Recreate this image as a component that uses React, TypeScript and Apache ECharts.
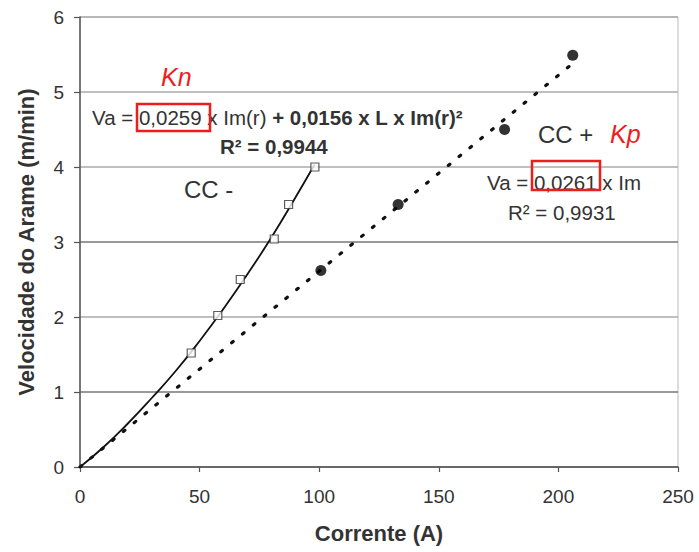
import React, { useEffect, useRef } from "react";
import * as echarts from "echarts";

// Measured points: wire feed speed (m/min) versus current (A)
const ccNegCurrent = [46.5, 57.6, 67.0, 81.2, 87.2, 98.2];
const ccNegSpeed = [1.52, 2.02, 2.5, 3.04, 3.5, 4.0];
const ccPosCurrent = [100.7, 133.0, 177.5, 206.0];
const ccPosSpeed = [2.62, 3.5, 4.5, 5.49];

// Trend lines (CC- quadratic fit, CC+ linear fit through origin)
const ccNegFitCurrent = [0, 10, 20, 30, 40, 50, 60, 70, 80, 90, 98];
const ccNegFitSpeed = [0, 0.27, 0.58, 0.92, 1.28, 1.68, 2.11, 2.57, 3.06, 3.59, 4.03];
const ccPosFitCurrent = [0, 206];
const ccPosFitSpeed = [0, 5.38];

const xTicks = { min: 0, max: 250, step: 50 };
const yTicks = { min: 0, max: 6, step: 1 };

const FONT = '"Liberation Sans", Arial, sans-serif';
const TEXT = "#333";
const RED = "#ee1c1c";

const zip = (a: number[], b: number[]) => a.map((v, i) => [v, b[i]]);

export default function App() {
  const ref = useRef<HTMLDivElement>(null);

  useEffect(() => {
    document.body.style.margin = "0";
    if (!ref.current) return;
    const chart = echarts.init(ref.current, null, { renderer: "svg" });

    const label = (
      x: number,
      y: number,
      text: string,
      opts: Record<string, unknown> = {}
    ) => ({
      type: "text",
      x,
      y,
      z: 10,
      style: {
        text,
        fill: TEXT,
        fontFamily: FONT,
        fontSize: 20.5,
        textVerticalAlign: "middle",
        ...opts,
      },
    });

    const box = (x: number, y: number, w: number, h: number) => ({
      type: "rect",
      z: 11,
      shape: { x, y, width: w, height: h },
      style: { fill: "none", stroke: RED, lineWidth: 2.5 },
    });

    chart.setOption({
      animation: false,
      backgroundColor: "#fff",
      grid: {
        left: 80,
        right: 21,
        top: 17,
        bottom: 85,
        show: true,
        borderColor: "#bbb",
        borderWidth: 1,
      },
      xAxis: {
        type: "value",
        min: xTicks.min,
        max: xTicks.max,
        interval: xTicks.step,
        name: "Corrente (A)",
        nameLocation: "middle",
        nameGap: 55,
        nameTextStyle: { fontFamily: FONT, fontSize: 22, fontWeight: "bold", color: TEXT },
        axisLine: { show: true, lineStyle: { color: "#555", width: 1.5 } },
        axisTick: { show: true, length: 5, lineStyle: { color: "#555", width: 1.2 } },
        axisLabel: { fontFamily: FONT, fontSize: 19, color: TEXT, margin: 20 },
        splitLine: { show: false },
      },
      yAxis: {
        type: "value",
        min: yTicks.min,
        max: yTicks.max,
        interval: yTicks.step,
        name: "Velocidade do Arame (m/min)",
        nameLocation: "middle",
        nameGap: 43,
        nameTextStyle: { fontFamily: FONT, fontSize: 22, fontWeight: "bold", color: TEXT },
        axisLine: { show: true, lineStyle: { color: "#555", width: 1.5 } },
        axisTick: { show: true, length: 6, lineStyle: { color: "#555", width: 1.2 } },
        axisLabel: { fontFamily: FONT, fontSize: 19, color: TEXT, margin: 16 },
        splitLine: {
          show: true,
          lineStyle: {
            color: ["#888", "#777", "#aaa", "#777", "#aaa", "#aaa", "#aaa"],
            width: 1.6,
          },
        },
      },
      series: [
        {
          name: "CC- ajuste",
          type: "line",
          data: zip(ccNegFitCurrent, ccNegFitSpeed),
          smooth: true,
          symbol: "none",
          lineStyle: { color: "#111", width: 1.8 },
          z: 2,
        },
        {
          name: "CC+ ajuste",
          type: "line",
          data: zip(ccPosFitCurrent, ccPosFitSpeed),
          symbol: "none",
          lineStyle: { color: "#111", width: 3.2, type: [2, 12], cap: "round" },
          z: 2,
        },
        {
          name: "CC -",
          type: "scatter",
          data: zip(ccNegCurrent, ccNegSpeed),
          symbol: "rect",
          symbolSize: 8,
          itemStyle: { color: "#fff", borderColor: "#333", borderWidth: 1.2 },
          z: 3,
        },
        {
          name: "CC +",
          type: "scatter",
          data: zip(ccPosCurrent, ccPosSpeed),
          symbol: "circle",
          symbolSize: 11,
          itemStyle: { color: "#000" },
          z: 3,
        },
      ],
      graphic: [
        label(161, 77, "Kn", { fill: RED, fontStyle: "italic", fontSize: 25 }),
        label(92, 117, "{n|Va = 0,0259 x Im(r)}{b| + 0,0156 x L x Im(r)²}", {
          rich: {
            n: { fontFamily: FONT, fontSize: 20.5, fill: TEXT },
            b: { fontFamily: FONT, fontSize: 20.5, fontWeight: "bold", fill: TEXT },
          },
        }),
        box(137, 104, 73, 27),
        label(220, 146, "R² = 0,9944", { fontWeight: "bold" }),
        label(184, 189, "CC -", { fontSize: 24 }),
        label(538, 134, "CC +", { fontSize: 24 }),
        label(610, 134, "Kp", { fill: RED, fontStyle: "italic", fontSize: 25 }),
        label(487, 182, "Va = 0,0261 x Im"),
        box(532, 161, 68, 29),
        label(508, 212, "R² = 0,9931"),
      ],
    });

    return () => chart.dispose();
  }, []);

  return <div ref={ref} style={{ width: 699, height: 552 }} />;
}
